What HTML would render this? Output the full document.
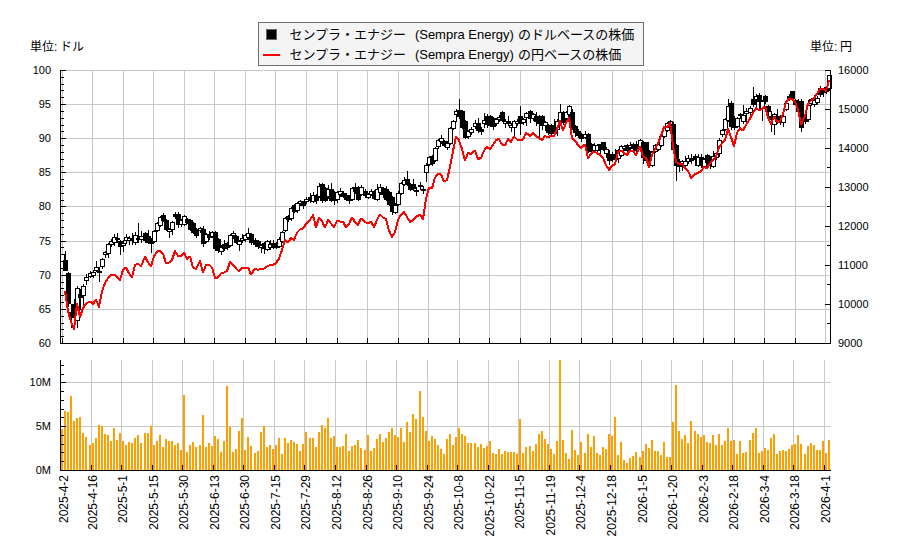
<!DOCTYPE html>
<html lang="ja"><head><meta charset="utf-8"><title>chart</title><style>html,body{margin:0;padding:0;background:#fff;font-family:"Liberation Sans",sans-serif}svg{display:block}</style></head><body><svg width="900" height="550" viewBox="0 0 900 550" role="img">
<title>センプラ・エナジー (Sempra Energy) 株価チャート</title>
<desc>単位:ドル / 単位:円。センプラ・エナジー (Sempra Energy)のドルベースの株価（ローソク足）、センプラ・エナジー (Sempra Energy)の円ベースの株価（赤線）、出来高（0M, 5M, 10M）。期間 2025-4-2 〜 2026-4-1。左軸 60〜100、右軸 9000〜16000。</desc>
<rect width="900" height="550" fill="#fff"/>
<g shape-rendering="crispEdges">
<rect x="61" y="70" width="769" height="1" fill="#c8c8c8"/>
<rect x="61" y="104" width="769" height="1" fill="#c8c8c8"/>
<rect x="61" y="138" width="769" height="1" fill="#c8c8c8"/>
<rect x="61" y="172" width="769" height="1" fill="#c8c8c8"/>
<rect x="61" y="206" width="769" height="1" fill="#c8c8c8"/>
<rect x="61" y="241" width="769" height="1" fill="#c8c8c8"/>
<rect x="61" y="275" width="769" height="1" fill="#c8c8c8"/>
<rect x="61" y="309" width="769" height="1" fill="#c8c8c8"/>
<rect x="61" y="343" width="769" height="1" fill="#c8c8c8"/>
<rect x="62" y="70" width="1" height="273" fill="#c8c8c8"/>
<rect x="92" y="70" width="1" height="273" fill="#c8c8c8"/>
<rect x="123" y="70" width="1" height="273" fill="#c8c8c8"/>
<rect x="153" y="70" width="1" height="273" fill="#c8c8c8"/>
<rect x="184" y="70" width="1" height="273" fill="#c8c8c8"/>
<rect x="214" y="70" width="1" height="273" fill="#c8c8c8"/>
<rect x="245" y="70" width="1" height="273" fill="#c8c8c8"/>
<rect x="275" y="70" width="1" height="273" fill="#c8c8c8"/>
<rect x="306" y="70" width="1" height="273" fill="#c8c8c8"/>
<rect x="337" y="70" width="1" height="273" fill="#c8c8c8"/>
<rect x="367" y="70" width="1" height="273" fill="#c8c8c8"/>
<rect x="398" y="70" width="1" height="273" fill="#c8c8c8"/>
<rect x="428" y="70" width="1" height="273" fill="#c8c8c8"/>
<rect x="459" y="70" width="1" height="273" fill="#c8c8c8"/>
<rect x="489" y="70" width="1" height="273" fill="#c8c8c8"/>
<rect x="520" y="70" width="1" height="273" fill="#c8c8c8"/>
<rect x="550" y="70" width="1" height="273" fill="#c8c8c8"/>
<rect x="581" y="70" width="1" height="273" fill="#c8c8c8"/>
<rect x="612" y="70" width="1" height="273" fill="#c8c8c8"/>
<rect x="642" y="70" width="1" height="273" fill="#c8c8c8"/>
<rect x="673" y="70" width="1" height="273" fill="#c8c8c8"/>
<rect x="703" y="70" width="1" height="273" fill="#c8c8c8"/>
<rect x="734" y="70" width="1" height="273" fill="#c8c8c8"/>
<rect x="764" y="70" width="1" height="273" fill="#c8c8c8"/>
<rect x="795" y="70" width="1" height="273" fill="#c8c8c8"/>
<rect x="825" y="70" width="1" height="273" fill="#c8c8c8"/>
</g>
<g shape-rendering="crispEdges">
<rect x="62" y="254" width="1" height="15" fill="#000"/>
<rect x="60" y="254" width="5" height="15" fill="#000"/>
<rect x="61" y="255" width="3" height="13" fill="#fff"/>
<rect x="65" y="251" width="1" height="20" fill="#000"/>
<rect x="63" y="260" width="5" height="11" fill="#000"/>
<rect x="68" y="272" width="1" height="35" fill="#000"/>
<rect x="66" y="273" width="5" height="31" fill="#000"/>
<rect x="71" y="304" width="1" height="24" fill="#000"/>
<rect x="69" y="312" width="5" height="6" fill="#000"/>
<rect x="74" y="299" width="1" height="22" fill="#000"/>
<rect x="72" y="304" width="5" height="13" fill="#000"/>
<rect x="77" y="286" width="1" height="42" fill="#000"/>
<rect x="75" y="288" width="5" height="33" fill="#000"/>
<rect x="76" y="289" width="3" height="31" fill="#fff"/>
<rect x="80" y="289" width="1" height="21" fill="#000"/>
<rect x="78" y="294" width="5" height="4" fill="#000"/>
<rect x="83" y="284" width="1" height="22" fill="#000"/>
<rect x="81" y="286" width="5" height="10" fill="#000"/>
<rect x="82" y="287" width="3" height="8" fill="#fff"/>
<rect x="86" y="274" width="1" height="11" fill="#000"/>
<rect x="84" y="277" width="5" height="4" fill="#000"/>
<rect x="85" y="278" width="3" height="2" fill="#fff"/>
<rect x="90" y="271" width="1" height="7" fill="#000"/>
<rect x="88" y="273" width="5" height="4" fill="#000"/>
<rect x="89" y="274" width="3" height="2" fill="#fff"/>
<rect x="93" y="270" width="1" height="8" fill="#000"/>
<rect x="91" y="272" width="5" height="4" fill="#000"/>
<rect x="92" y="273" width="3" height="2" fill="#fff"/>
<rect x="96" y="261" width="1" height="11" fill="#000"/>
<rect x="94" y="267" width="5" height="4" fill="#000"/>
<rect x="95" y="268" width="3" height="2" fill="#fff"/>
<rect x="99" y="267" width="1" height="15" fill="#000"/>
<rect x="97" y="271" width="5" height="2" fill="#000"/>
<rect x="102" y="258" width="1" height="11" fill="#000"/>
<rect x="100" y="259" width="5" height="8" fill="#000"/>
<rect x="101" y="260" width="3" height="6" fill="#fff"/>
<rect x="105" y="251" width="1" height="7" fill="#000"/>
<rect x="103" y="252" width="5" height="3" fill="#000"/>
<rect x="104" y="253" width="3" height="1" fill="#fff"/>
<rect x="108" y="243" width="1" height="15" fill="#000"/>
<rect x="106" y="244" width="5" height="10" fill="#000"/>
<rect x="107" y="245" width="3" height="8" fill="#fff"/>
<rect x="111" y="239" width="1" height="8" fill="#000"/>
<rect x="109" y="241" width="5" height="4" fill="#000"/>
<rect x="110" y="242" width="3" height="2" fill="#fff"/>
<rect x="114" y="234" width="1" height="12" fill="#000"/>
<rect x="112" y="237" width="5" height="6" fill="#000"/>
<rect x="113" y="238" width="3" height="4" fill="#fff"/>
<rect x="117" y="233" width="1" height="10" fill="#000"/>
<rect x="115" y="238" width="5" height="2" fill="#000"/>
<rect x="120" y="240" width="1" height="15" fill="#000"/>
<rect x="118" y="241" width="5" height="6" fill="#000"/>
<rect x="123" y="240" width="1" height="12" fill="#000"/>
<rect x="121" y="243" width="5" height="3" fill="#000"/>
<rect x="122" y="244" width="3" height="1" fill="#fff"/>
<rect x="126" y="234" width="1" height="10" fill="#000"/>
<rect x="124" y="237" width="5" height="4" fill="#000"/>
<rect x="125" y="238" width="3" height="2" fill="#fff"/>
<rect x="129" y="236" width="1" height="9" fill="#000"/>
<rect x="127" y="238" width="5" height="3" fill="#000"/>
<rect x="128" y="239" width="3" height="1" fill="#fff"/>
<rect x="132" y="233" width="1" height="12" fill="#000"/>
<rect x="130" y="239" width="5" height="2" fill="#000"/>
<rect x="135" y="232" width="1" height="13" fill="#000"/>
<rect x="133" y="235" width="5" height="8" fill="#000"/>
<rect x="134" y="236" width="3" height="6" fill="#fff"/>
<rect x="138" y="223" width="1" height="20" fill="#000"/>
<rect x="136" y="238" width="5" height="2" fill="#000"/>
<rect x="141" y="231" width="1" height="12" fill="#000"/>
<rect x="139" y="236" width="5" height="4" fill="#000"/>
<rect x="140" y="237" width="3" height="2" fill="#fff"/>
<rect x="145" y="232" width="1" height="11" fill="#000"/>
<rect x="143" y="233" width="5" height="8" fill="#000"/>
<rect x="148" y="230" width="1" height="14" fill="#000"/>
<rect x="146" y="236" width="5" height="7" fill="#000"/>
<rect x="151" y="238" width="1" height="15" fill="#000"/>
<rect x="149" y="240" width="5" height="4" fill="#000"/>
<rect x="154" y="230" width="1" height="13" fill="#000"/>
<rect x="152" y="231" width="5" height="11" fill="#000"/>
<rect x="153" y="232" width="3" height="9" fill="#fff"/>
<rect x="157" y="222" width="1" height="10" fill="#000"/>
<rect x="155" y="223" width="5" height="8" fill="#000"/>
<rect x="156" y="224" width="3" height="6" fill="#fff"/>
<rect x="160" y="216" width="1" height="11" fill="#000"/>
<rect x="158" y="217" width="5" height="9" fill="#000"/>
<rect x="159" y="218" width="3" height="7" fill="#fff"/>
<rect x="163" y="213" width="1" height="9" fill="#000"/>
<rect x="161" y="215" width="5" height="6" fill="#000"/>
<rect x="166" y="219" width="1" height="12" fill="#000"/>
<rect x="164" y="220" width="5" height="10" fill="#000"/>
<rect x="169" y="228" width="1" height="10" fill="#000"/>
<rect x="167" y="229" width="5" height="3" fill="#000"/>
<rect x="168" y="230" width="3" height="1" fill="#fff"/>
<rect x="172" y="221" width="1" height="14" fill="#000"/>
<rect x="170" y="222" width="5" height="8" fill="#000"/>
<rect x="171" y="223" width="3" height="6" fill="#fff"/>
<rect x="175" y="212" width="1" height="7" fill="#000"/>
<rect x="173" y="214" width="5" height="3" fill="#000"/>
<rect x="178" y="212" width="1" height="16" fill="#000"/>
<rect x="176" y="214" width="5" height="11" fill="#000"/>
<rect x="181" y="219" width="1" height="8" fill="#000"/>
<rect x="179" y="220" width="5" height="5" fill="#000"/>
<rect x="180" y="221" width="3" height="3" fill="#fff"/>
<rect x="184" y="215" width="1" height="11" fill="#000"/>
<rect x="182" y="216" width="5" height="9" fill="#000"/>
<rect x="183" y="217" width="3" height="7" fill="#fff"/>
<rect x="187" y="218" width="1" height="6" fill="#000"/>
<rect x="185" y="219" width="5" height="4" fill="#000"/>
<rect x="190" y="219" width="1" height="12" fill="#000"/>
<rect x="188" y="220" width="5" height="10" fill="#000"/>
<rect x="193" y="222" width="1" height="12" fill="#000"/>
<rect x="191" y="223" width="5" height="10" fill="#000"/>
<rect x="196" y="228" width="1" height="10" fill="#000"/>
<rect x="194" y="229" width="5" height="7" fill="#000"/>
<rect x="200" y="227" width="1" height="6" fill="#000"/>
<rect x="198" y="228" width="5" height="3" fill="#000"/>
<rect x="199" y="229" width="3" height="1" fill="#fff"/>
<rect x="203" y="226" width="1" height="21" fill="#000"/>
<rect x="201" y="229" width="5" height="15" fill="#000"/>
<rect x="206" y="233" width="1" height="10" fill="#000"/>
<rect x="204" y="234" width="5" height="8" fill="#000"/>
<rect x="205" y="235" width="3" height="6" fill="#fff"/>
<rect x="209" y="231" width="1" height="9" fill="#000"/>
<rect x="207" y="234" width="5" height="4" fill="#000"/>
<rect x="212" y="231" width="1" height="7" fill="#000"/>
<rect x="210" y="232" width="5" height="5" fill="#000"/>
<rect x="211" y="233" width="3" height="3" fill="#fff"/>
<rect x="215" y="231" width="1" height="20" fill="#000"/>
<rect x="213" y="232" width="5" height="17" fill="#000"/>
<rect x="218" y="238" width="1" height="15" fill="#000"/>
<rect x="216" y="239" width="5" height="12" fill="#000"/>
<rect x="221" y="245" width="1" height="10" fill="#000"/>
<rect x="219" y="247" width="5" height="5" fill="#000"/>
<rect x="220" y="248" width="3" height="3" fill="#fff"/>
<rect x="224" y="240" width="1" height="11" fill="#000"/>
<rect x="222" y="244" width="5" height="5" fill="#000"/>
<rect x="227" y="242" width="1" height="8" fill="#000"/>
<rect x="225" y="243" width="5" height="5" fill="#000"/>
<rect x="230" y="234" width="1" height="13" fill="#000"/>
<rect x="228" y="235" width="5" height="11" fill="#000"/>
<rect x="229" y="236" width="3" height="9" fill="#fff"/>
<rect x="233" y="231" width="1" height="8" fill="#000"/>
<rect x="231" y="233" width="5" height="3" fill="#000"/>
<rect x="232" y="234" width="3" height="1" fill="#fff"/>
<rect x="236" y="235" width="1" height="9" fill="#000"/>
<rect x="234" y="236" width="5" height="7" fill="#000"/>
<rect x="239" y="240" width="1" height="11" fill="#000"/>
<rect x="237" y="241" width="5" height="4" fill="#000"/>
<rect x="238" y="242" width="3" height="2" fill="#fff"/>
<rect x="242" y="234" width="1" height="9" fill="#000"/>
<rect x="240" y="238" width="5" height="3" fill="#000"/>
<rect x="241" y="239" width="3" height="1" fill="#fff"/>
<rect x="245" y="234" width="1" height="8" fill="#000"/>
<rect x="243" y="235" width="5" height="5" fill="#000"/>
<rect x="244" y="236" width="3" height="3" fill="#fff"/>
<rect x="248" y="228" width="1" height="12" fill="#000"/>
<rect x="246" y="233" width="5" height="5" fill="#000"/>
<rect x="247" y="234" width="3" height="3" fill="#fff"/>
<rect x="251" y="233" width="1" height="12" fill="#000"/>
<rect x="249" y="234" width="5" height="9" fill="#000"/>
<rect x="255" y="238" width="1" height="9" fill="#000"/>
<rect x="253" y="240" width="5" height="5" fill="#000"/>
<rect x="258" y="240" width="1" height="9" fill="#000"/>
<rect x="256" y="241" width="5" height="6" fill="#000"/>
<rect x="261" y="244" width="1" height="9" fill="#000"/>
<rect x="259" y="245" width="5" height="3" fill="#000"/>
<rect x="260" y="246" width="3" height="1" fill="#fff"/>
<rect x="264" y="242" width="1" height="12" fill="#000"/>
<rect x="262" y="243" width="5" height="6" fill="#000"/>
<rect x="267" y="240" width="1" height="11" fill="#000"/>
<rect x="265" y="241" width="5" height="9" fill="#000"/>
<rect x="266" y="242" width="3" height="7" fill="#fff"/>
<rect x="270" y="240" width="1" height="10" fill="#000"/>
<rect x="268" y="244" width="5" height="4" fill="#000"/>
<rect x="269" y="245" width="3" height="2" fill="#fff"/>
<rect x="273" y="240" width="1" height="9" fill="#000"/>
<rect x="271" y="243" width="5" height="5" fill="#000"/>
<rect x="276" y="242" width="1" height="7" fill="#000"/>
<rect x="274" y="243" width="5" height="5" fill="#000"/>
<rect x="279" y="237" width="1" height="11" fill="#000"/>
<rect x="277" y="239" width="5" height="8" fill="#000"/>
<rect x="278" y="240" width="3" height="6" fill="#fff"/>
<rect x="282" y="231" width="1" height="12" fill="#000"/>
<rect x="280" y="232" width="5" height="10" fill="#000"/>
<rect x="281" y="233" width="3" height="8" fill="#fff"/>
<rect x="285" y="217" width="1" height="15" fill="#000"/>
<rect x="283" y="218" width="5" height="13" fill="#000"/>
<rect x="284" y="219" width="3" height="11" fill="#fff"/>
<rect x="288" y="215" width="1" height="7" fill="#000"/>
<rect x="286" y="216" width="5" height="4" fill="#000"/>
<rect x="291" y="207" width="1" height="14" fill="#000"/>
<rect x="289" y="208" width="5" height="11" fill="#000"/>
<rect x="290" y="209" width="3" height="9" fill="#fff"/>
<rect x="294" y="204" width="1" height="9" fill="#000"/>
<rect x="292" y="205" width="5" height="7" fill="#000"/>
<rect x="297" y="202" width="1" height="11" fill="#000"/>
<rect x="295" y="203" width="5" height="8" fill="#000"/>
<rect x="296" y="204" width="3" height="6" fill="#fff"/>
<rect x="300" y="200" width="1" height="6" fill="#000"/>
<rect x="298" y="201" width="5" height="3" fill="#000"/>
<rect x="299" y="202" width="3" height="1" fill="#fff"/>
<rect x="303" y="201" width="1" height="8" fill="#000"/>
<rect x="301" y="202" width="5" height="4" fill="#000"/>
<rect x="306" y="197" width="1" height="7" fill="#000"/>
<rect x="304" y="199" width="5" height="3" fill="#000"/>
<rect x="305" y="200" width="3" height="1" fill="#fff"/>
<rect x="310" y="193" width="1" height="10" fill="#000"/>
<rect x="308" y="197" width="5" height="4" fill="#000"/>
<rect x="313" y="192" width="1" height="11" fill="#000"/>
<rect x="311" y="195" width="5" height="7" fill="#000"/>
<rect x="312" y="196" width="3" height="5" fill="#fff"/>
<rect x="316" y="194" width="1" height="10" fill="#000"/>
<rect x="314" y="195" width="5" height="6" fill="#000"/>
<rect x="319" y="183" width="1" height="15" fill="#000"/>
<rect x="317" y="186" width="5" height="11" fill="#000"/>
<rect x="318" y="187" width="3" height="9" fill="#fff"/>
<rect x="322" y="183" width="1" height="20" fill="#000"/>
<rect x="320" y="184" width="5" height="17" fill="#000"/>
<rect x="325" y="187" width="1" height="15" fill="#000"/>
<rect x="323" y="188" width="5" height="13" fill="#000"/>
<rect x="328" y="185" width="1" height="14" fill="#000"/>
<rect x="326" y="189" width="5" height="8" fill="#000"/>
<rect x="327" y="190" width="3" height="6" fill="#fff"/>
<rect x="331" y="183" width="1" height="19" fill="#000"/>
<rect x="329" y="189" width="5" height="12" fill="#000"/>
<rect x="334" y="191" width="1" height="14" fill="#000"/>
<rect x="332" y="192" width="5" height="9" fill="#000"/>
<rect x="337" y="191" width="1" height="12" fill="#000"/>
<rect x="335" y="192" width="5" height="8" fill="#000"/>
<rect x="336" y="193" width="3" height="6" fill="#fff"/>
<rect x="340" y="188" width="1" height="9" fill="#000"/>
<rect x="338" y="191" width="5" height="4" fill="#000"/>
<rect x="339" y="192" width="3" height="2" fill="#fff"/>
<rect x="343" y="191" width="1" height="7" fill="#000"/>
<rect x="341" y="193" width="5" height="4" fill="#000"/>
<rect x="346" y="193" width="1" height="8" fill="#000"/>
<rect x="344" y="195" width="5" height="5" fill="#000"/>
<rect x="349" y="195" width="1" height="9" fill="#000"/>
<rect x="347" y="196" width="5" height="5" fill="#000"/>
<rect x="352" y="187" width="1" height="14" fill="#000"/>
<rect x="350" y="188" width="5" height="12" fill="#000"/>
<rect x="351" y="189" width="3" height="10" fill="#fff"/>
<rect x="355" y="183" width="1" height="11" fill="#000"/>
<rect x="353" y="187" width="5" height="5" fill="#000"/>
<rect x="358" y="186" width="1" height="15" fill="#000"/>
<rect x="356" y="187" width="5" height="13" fill="#000"/>
<rect x="361" y="185" width="1" height="11" fill="#000"/>
<rect x="359" y="187" width="5" height="8" fill="#000"/>
<rect x="360" y="188" width="3" height="6" fill="#fff"/>
<rect x="365" y="189" width="1" height="9" fill="#000"/>
<rect x="363" y="191" width="5" height="5" fill="#000"/>
<rect x="368" y="193" width="1" height="6" fill="#000"/>
<rect x="366" y="194" width="5" height="4" fill="#000"/>
<rect x="367" y="195" width="3" height="2" fill="#fff"/>
<rect x="371" y="189" width="1" height="7" fill="#000"/>
<rect x="369" y="191" width="5" height="4" fill="#000"/>
<rect x="370" y="192" width="3" height="2" fill="#fff"/>
<rect x="374" y="190" width="1" height="10" fill="#000"/>
<rect x="372" y="191" width="5" height="8" fill="#000"/>
<rect x="377" y="184" width="1" height="17" fill="#000"/>
<rect x="375" y="189" width="5" height="11" fill="#000"/>
<rect x="376" y="190" width="3" height="9" fill="#fff"/>
<rect x="380" y="184" width="1" height="11" fill="#000"/>
<rect x="378" y="187" width="5" height="6" fill="#000"/>
<rect x="379" y="188" width="3" height="4" fill="#fff"/>
<rect x="383" y="187" width="1" height="11" fill="#000"/>
<rect x="381" y="188" width="5" height="7" fill="#000"/>
<rect x="386" y="186" width="1" height="15" fill="#000"/>
<rect x="384" y="189" width="5" height="11" fill="#000"/>
<rect x="389" y="191" width="1" height="15" fill="#000"/>
<rect x="387" y="192" width="5" height="13" fill="#000"/>
<rect x="392" y="196" width="1" height="19" fill="#000"/>
<rect x="390" y="197" width="5" height="15" fill="#000"/>
<rect x="395" y="203" width="1" height="11" fill="#000"/>
<rect x="393" y="205" width="5" height="8" fill="#000"/>
<rect x="394" y="206" width="3" height="6" fill="#fff"/>
<rect x="398" y="191" width="1" height="15" fill="#000"/>
<rect x="396" y="193" width="5" height="12" fill="#000"/>
<rect x="397" y="194" width="3" height="10" fill="#fff"/>
<rect x="401" y="182" width="1" height="13" fill="#000"/>
<rect x="399" y="183" width="5" height="11" fill="#000"/>
<rect x="400" y="184" width="3" height="9" fill="#fff"/>
<rect x="404" y="177" width="1" height="9" fill="#000"/>
<rect x="402" y="180" width="5" height="5" fill="#000"/>
<rect x="403" y="181" width="3" height="3" fill="#fff"/>
<rect x="407" y="171" width="1" height="15" fill="#000"/>
<rect x="405" y="179" width="5" height="6" fill="#000"/>
<rect x="410" y="183" width="1" height="8" fill="#000"/>
<rect x="408" y="184" width="5" height="6" fill="#000"/>
<rect x="413" y="179" width="1" height="12" fill="#000"/>
<rect x="411" y="184" width="5" height="5" fill="#000"/>
<rect x="416" y="187" width="1" height="9" fill="#000"/>
<rect x="414" y="190" width="5" height="2" fill="#000"/>
<rect x="420" y="182" width="1" height="8" fill="#000"/>
<rect x="418" y="185" width="5" height="2" fill="#000"/>
<rect x="423" y="186" width="1" height="8" fill="#000"/>
<rect x="421" y="189" width="5" height="2" fill="#000"/>
<rect x="426" y="163" width="1" height="19" fill="#000"/>
<rect x="424" y="165" width="5" height="8" fill="#000"/>
<rect x="425" y="166" width="3" height="6" fill="#fff"/>
<rect x="429" y="156" width="1" height="10" fill="#000"/>
<rect x="427" y="157" width="5" height="8" fill="#000"/>
<rect x="428" y="158" width="3" height="6" fill="#fff"/>
<rect x="432" y="155" width="1" height="11" fill="#000"/>
<rect x="430" y="156" width="5" height="8" fill="#000"/>
<rect x="435" y="147" width="1" height="15" fill="#000"/>
<rect x="433" y="148" width="5" height="13" fill="#000"/>
<rect x="434" y="149" width="3" height="11" fill="#fff"/>
<rect x="438" y="139" width="1" height="10" fill="#000"/>
<rect x="436" y="140" width="5" height="7" fill="#000"/>
<rect x="437" y="141" width="3" height="5" fill="#fff"/>
<rect x="441" y="135" width="1" height="9" fill="#000"/>
<rect x="439" y="138" width="5" height="4" fill="#000"/>
<rect x="440" y="139" width="3" height="2" fill="#fff"/>
<rect x="444" y="140" width="1" height="7" fill="#000"/>
<rect x="442" y="141" width="5" height="5" fill="#000"/>
<rect x="447" y="141" width="1" height="9" fill="#000"/>
<rect x="445" y="143" width="5" height="5" fill="#000"/>
<rect x="446" y="144" width="3" height="3" fill="#fff"/>
<rect x="450" y="127" width="1" height="18" fill="#000"/>
<rect x="448" y="128" width="5" height="16" fill="#000"/>
<rect x="449" y="129" width="3" height="14" fill="#fff"/>
<rect x="453" y="120" width="1" height="10" fill="#000"/>
<rect x="451" y="121" width="5" height="8" fill="#000"/>
<rect x="452" y="122" width="3" height="6" fill="#fff"/>
<rect x="456" y="109" width="1" height="13" fill="#000"/>
<rect x="454" y="111" width="5" height="4" fill="#000"/>
<rect x="455" y="112" width="3" height="2" fill="#fff"/>
<rect x="459" y="99" width="1" height="20" fill="#000"/>
<rect x="457" y="110" width="5" height="7" fill="#000"/>
<rect x="462" y="110" width="1" height="19" fill="#000"/>
<rect x="460" y="111" width="5" height="17" fill="#000"/>
<rect x="465" y="120" width="1" height="19" fill="#000"/>
<rect x="463" y="121" width="5" height="17" fill="#000"/>
<rect x="468" y="130" width="1" height="9" fill="#000"/>
<rect x="466" y="131" width="5" height="6" fill="#000"/>
<rect x="467" y="132" width="3" height="4" fill="#fff"/>
<rect x="471" y="127" width="1" height="8" fill="#000"/>
<rect x="469" y="129" width="5" height="4" fill="#000"/>
<rect x="470" y="130" width="3" height="2" fill="#fff"/>
<rect x="475" y="120" width="1" height="9" fill="#000"/>
<rect x="473" y="123" width="5" height="4" fill="#000"/>
<rect x="474" y="124" width="3" height="2" fill="#fff"/>
<rect x="478" y="118" width="1" height="15" fill="#000"/>
<rect x="476" y="123" width="5" height="8" fill="#000"/>
<rect x="481" y="127" width="1" height="8" fill="#000"/>
<rect x="479" y="129" width="5" height="3" fill="#000"/>
<rect x="484" y="113" width="1" height="15" fill="#000"/>
<rect x="482" y="120" width="5" height="4" fill="#000"/>
<rect x="483" y="121" width="3" height="2" fill="#fff"/>
<rect x="487" y="114" width="1" height="14" fill="#000"/>
<rect x="485" y="116" width="5" height="9" fill="#000"/>
<rect x="490" y="115" width="1" height="12" fill="#000"/>
<rect x="488" y="116" width="5" height="10" fill="#000"/>
<rect x="493" y="117" width="1" height="13" fill="#000"/>
<rect x="491" y="118" width="5" height="9" fill="#000"/>
<rect x="496" y="118" width="1" height="8" fill="#000"/>
<rect x="494" y="119" width="5" height="5" fill="#000"/>
<rect x="495" y="120" width="3" height="3" fill="#fff"/>
<rect x="499" y="115" width="1" height="7" fill="#000"/>
<rect x="497" y="117" width="5" height="3" fill="#000"/>
<rect x="498" y="118" width="3" height="1" fill="#fff"/>
<rect x="502" y="111" width="1" height="11" fill="#000"/>
<rect x="500" y="112" width="5" height="9" fill="#000"/>
<rect x="505" y="119" width="1" height="9" fill="#000"/>
<rect x="503" y="121" width="5" height="3" fill="#000"/>
<rect x="504" y="122" width="3" height="1" fill="#fff"/>
<rect x="508" y="116" width="1" height="10" fill="#000"/>
<rect x="506" y="121" width="5" height="3" fill="#000"/>
<rect x="511" y="123" width="1" height="9" fill="#000"/>
<rect x="509" y="125" width="5" height="3" fill="#000"/>
<rect x="510" y="126" width="3" height="1" fill="#fff"/>
<rect x="514" y="120" width="1" height="18" fill="#000"/>
<rect x="512" y="121" width="5" height="7" fill="#000"/>
<rect x="513" y="122" width="3" height="5" fill="#fff"/>
<rect x="517" y="119" width="1" height="7" fill="#000"/>
<rect x="515" y="121" width="5" height="3" fill="#000"/>
<rect x="516" y="122" width="3" height="1" fill="#fff"/>
<rect x="520" y="106" width="1" height="29" fill="#000"/>
<rect x="518" y="116" width="5" height="8" fill="#000"/>
<rect x="523" y="118" width="1" height="7" fill="#000"/>
<rect x="521" y="119" width="5" height="4" fill="#000"/>
<rect x="522" y="120" width="3" height="2" fill="#fff"/>
<rect x="526" y="112" width="1" height="14" fill="#000"/>
<rect x="524" y="113" width="5" height="5" fill="#000"/>
<rect x="525" y="114" width="3" height="3" fill="#fff"/>
<rect x="530" y="110" width="1" height="13" fill="#000"/>
<rect x="528" y="111" width="5" height="8" fill="#000"/>
<rect x="533" y="113" width="1" height="8" fill="#000"/>
<rect x="531" y="114" width="5" height="5" fill="#000"/>
<rect x="532" y="115" width="3" height="3" fill="#fff"/>
<rect x="536" y="112" width="1" height="14" fill="#000"/>
<rect x="534" y="116" width="5" height="6" fill="#000"/>
<rect x="539" y="115" width="1" height="22" fill="#000"/>
<rect x="537" y="116" width="5" height="8" fill="#000"/>
<rect x="542" y="115" width="1" height="15" fill="#000"/>
<rect x="540" y="116" width="5" height="10" fill="#000"/>
<rect x="545" y="121" width="1" height="10" fill="#000"/>
<rect x="543" y="122" width="5" height="4" fill="#000"/>
<rect x="544" y="123" width="3" height="2" fill="#fff"/>
<rect x="548" y="124" width="1" height="11" fill="#000"/>
<rect x="546" y="125" width="5" height="8" fill="#000"/>
<rect x="551" y="124" width="1" height="11" fill="#000"/>
<rect x="549" y="125" width="5" height="9" fill="#000"/>
<rect x="554" y="119" width="1" height="17" fill="#000"/>
<rect x="552" y="125" width="5" height="9" fill="#000"/>
<rect x="557" y="119" width="1" height="17" fill="#000"/>
<rect x="555" y="121" width="5" height="9" fill="#000"/>
<rect x="556" y="122" width="3" height="7" fill="#fff"/>
<rect x="560" y="104" width="1" height="21" fill="#000"/>
<rect x="558" y="112" width="5" height="11" fill="#000"/>
<rect x="559" y="113" width="3" height="9" fill="#fff"/>
<rect x="563" y="111" width="1" height="14" fill="#000"/>
<rect x="561" y="112" width="5" height="11" fill="#000"/>
<rect x="566" y="111" width="1" height="10" fill="#000"/>
<rect x="564" y="112" width="5" height="7" fill="#000"/>
<rect x="565" y="113" width="3" height="5" fill="#fff"/>
<rect x="569" y="105" width="1" height="12" fill="#000"/>
<rect x="567" y="106" width="5" height="9" fill="#000"/>
<rect x="568" y="107" width="3" height="7" fill="#fff"/>
<rect x="572" y="109" width="1" height="21" fill="#000"/>
<rect x="570" y="112" width="5" height="17" fill="#000"/>
<rect x="575" y="125" width="1" height="12" fill="#000"/>
<rect x="573" y="126" width="5" height="7" fill="#000"/>
<rect x="578" y="129" width="1" height="9" fill="#000"/>
<rect x="576" y="131" width="5" height="5" fill="#000"/>
<rect x="581" y="133" width="1" height="9" fill="#000"/>
<rect x="579" y="134" width="5" height="5" fill="#000"/>
<rect x="585" y="131" width="1" height="8" fill="#000"/>
<rect x="583" y="134" width="5" height="4" fill="#000"/>
<rect x="584" y="135" width="3" height="2" fill="#fff"/>
<rect x="588" y="133" width="1" height="20" fill="#000"/>
<rect x="586" y="134" width="5" height="18" fill="#000"/>
<rect x="591" y="143" width="1" height="10" fill="#000"/>
<rect x="589" y="144" width="5" height="8" fill="#000"/>
<rect x="594" y="143" width="1" height="9" fill="#000"/>
<rect x="592" y="145" width="5" height="6" fill="#000"/>
<rect x="593" y="146" width="3" height="4" fill="#fff"/>
<rect x="597" y="144" width="1" height="9" fill="#000"/>
<rect x="595" y="145" width="5" height="6" fill="#000"/>
<rect x="596" y="146" width="3" height="4" fill="#fff"/>
<rect x="600" y="144" width="1" height="10" fill="#000"/>
<rect x="598" y="144" width="5" height="6" fill="#000"/>
<rect x="603" y="142" width="1" height="9" fill="#000"/>
<rect x="601" y="142" width="5" height="8" fill="#000"/>
<rect x="606" y="147" width="1" height="11" fill="#000"/>
<rect x="604" y="149" width="5" height="5" fill="#000"/>
<rect x="605" y="150" width="3" height="3" fill="#fff"/>
<rect x="609" y="150" width="1" height="15" fill="#000"/>
<rect x="607" y="154" width="5" height="7" fill="#000"/>
<rect x="612" y="152" width="1" height="10" fill="#000"/>
<rect x="610" y="154" width="5" height="6" fill="#000"/>
<rect x="615" y="149" width="1" height="12" fill="#000"/>
<rect x="613" y="154" width="5" height="6" fill="#000"/>
<rect x="618" y="149" width="1" height="14" fill="#000"/>
<rect x="616" y="150" width="5" height="9" fill="#000"/>
<rect x="617" y="151" width="3" height="7" fill="#fff"/>
<rect x="621" y="145" width="1" height="12" fill="#000"/>
<rect x="619" y="146" width="5" height="10" fill="#000"/>
<rect x="620" y="147" width="3" height="8" fill="#fff"/>
<rect x="624" y="145" width="1" height="6" fill="#000"/>
<rect x="622" y="146" width="5" height="3" fill="#000"/>
<rect x="623" y="147" width="3" height="1" fill="#fff"/>
<rect x="627" y="144" width="1" height="8" fill="#000"/>
<rect x="625" y="145" width="5" height="6" fill="#000"/>
<rect x="630" y="142" width="1" height="8" fill="#000"/>
<rect x="628" y="145" width="5" height="3" fill="#000"/>
<rect x="629" y="146" width="3" height="1" fill="#fff"/>
<rect x="633" y="143" width="1" height="8" fill="#000"/>
<rect x="631" y="144" width="5" height="5" fill="#000"/>
<rect x="636" y="141" width="1" height="11" fill="#000"/>
<rect x="634" y="144" width="5" height="7" fill="#000"/>
<rect x="640" y="139" width="1" height="9" fill="#000"/>
<rect x="638" y="140" width="5" height="7" fill="#000"/>
<rect x="639" y="141" width="3" height="5" fill="#fff"/>
<rect x="643" y="141" width="1" height="23" fill="#000"/>
<rect x="641" y="142" width="5" height="16" fill="#000"/>
<rect x="646" y="142" width="1" height="20" fill="#000"/>
<rect x="644" y="142" width="5" height="19" fill="#000"/>
<rect x="649" y="150" width="1" height="18" fill="#000"/>
<rect x="647" y="151" width="5" height="15" fill="#000"/>
<rect x="652" y="151" width="1" height="16" fill="#000"/>
<rect x="650" y="152" width="5" height="14" fill="#000"/>
<rect x="651" y="153" width="3" height="12" fill="#fff"/>
<rect x="655" y="144" width="1" height="9" fill="#000"/>
<rect x="653" y="145" width="5" height="7" fill="#000"/>
<rect x="654" y="146" width="3" height="5" fill="#fff"/>
<rect x="658" y="143" width="1" height="8" fill="#000"/>
<rect x="656" y="144" width="5" height="6" fill="#000"/>
<rect x="657" y="145" width="3" height="4" fill="#fff"/>
<rect x="661" y="135" width="1" height="12" fill="#000"/>
<rect x="659" y="136" width="5" height="10" fill="#000"/>
<rect x="660" y="137" width="3" height="8" fill="#fff"/>
<rect x="664" y="127" width="1" height="11" fill="#000"/>
<rect x="662" y="128" width="5" height="9" fill="#000"/>
<rect x="663" y="129" width="3" height="7" fill="#fff"/>
<rect x="667" y="122" width="1" height="10" fill="#000"/>
<rect x="665" y="123" width="5" height="8" fill="#000"/>
<rect x="666" y="124" width="3" height="6" fill="#fff"/>
<rect x="670" y="120" width="1" height="9" fill="#000"/>
<rect x="668" y="121" width="5" height="7" fill="#000"/>
<rect x="669" y="122" width="3" height="5" fill="#fff"/>
<rect x="673" y="122" width="1" height="29" fill="#000"/>
<rect x="671" y="124" width="5" height="26" fill="#000"/>
<rect x="676" y="144" width="1" height="37" fill="#000"/>
<rect x="674" y="145" width="5" height="21" fill="#000"/>
<rect x="679" y="159" width="1" height="13" fill="#000"/>
<rect x="677" y="164" width="5" height="3" fill="#000"/>
<rect x="682" y="160" width="1" height="11" fill="#000"/>
<rect x="680" y="161" width="5" height="3" fill="#000"/>
<rect x="681" y="162" width="3" height="1" fill="#fff"/>
<rect x="685" y="156" width="1" height="11" fill="#000"/>
<rect x="683" y="161" width="5" height="5" fill="#000"/>
<rect x="684" y="162" width="3" height="3" fill="#fff"/>
<rect x="688" y="155" width="1" height="9" fill="#000"/>
<rect x="686" y="158" width="5" height="4" fill="#000"/>
<rect x="687" y="159" width="3" height="2" fill="#fff"/>
<rect x="691" y="154" width="1" height="10" fill="#000"/>
<rect x="689" y="158" width="5" height="3" fill="#000"/>
<rect x="695" y="154" width="1" height="12" fill="#000"/>
<rect x="693" y="156" width="5" height="4" fill="#000"/>
<rect x="698" y="154" width="1" height="13" fill="#000"/>
<rect x="696" y="157" width="5" height="9" fill="#000"/>
<rect x="697" y="158" width="3" height="7" fill="#fff"/>
<rect x="701" y="154" width="1" height="14" fill="#000"/>
<rect x="699" y="157" width="5" height="9" fill="#000"/>
<rect x="704" y="158" width="1" height="10" fill="#000"/>
<rect x="702" y="159" width="5" height="8" fill="#000"/>
<rect x="703" y="160" width="3" height="6" fill="#fff"/>
<rect x="707" y="154" width="1" height="13" fill="#000"/>
<rect x="705" y="155" width="5" height="8" fill="#000"/>
<rect x="710" y="156" width="1" height="13" fill="#000"/>
<rect x="708" y="158" width="5" height="7" fill="#000"/>
<rect x="713" y="151" width="1" height="17" fill="#000"/>
<rect x="711" y="156" width="5" height="11" fill="#000"/>
<rect x="712" y="157" width="3" height="9" fill="#fff"/>
<rect x="716" y="152" width="1" height="8" fill="#000"/>
<rect x="714" y="153" width="5" height="5" fill="#000"/>
<rect x="715" y="154" width="3" height="3" fill="#fff"/>
<rect x="719" y="138" width="1" height="19" fill="#000"/>
<rect x="717" y="140" width="5" height="14" fill="#000"/>
<rect x="718" y="141" width="3" height="12" fill="#fff"/>
<rect x="722" y="129" width="1" height="8" fill="#000"/>
<rect x="720" y="130" width="5" height="5" fill="#000"/>
<rect x="721" y="131" width="3" height="3" fill="#fff"/>
<rect x="725" y="118" width="1" height="13" fill="#000"/>
<rect x="723" y="119" width="5" height="11" fill="#000"/>
<rect x="724" y="120" width="3" height="9" fill="#fff"/>
<rect x="728" y="99" width="1" height="23" fill="#000"/>
<rect x="726" y="106" width="5" height="15" fill="#000"/>
<rect x="727" y="107" width="3" height="13" fill="#fff"/>
<rect x="731" y="101" width="1" height="29" fill="#000"/>
<rect x="729" y="103" width="5" height="24" fill="#000"/>
<rect x="734" y="116" width="1" height="14" fill="#000"/>
<rect x="732" y="118" width="5" height="10" fill="#000"/>
<rect x="737" y="117" width="1" height="11" fill="#000"/>
<rect x="735" y="118" width="5" height="9" fill="#000"/>
<rect x="736" y="119" width="3" height="7" fill="#fff"/>
<rect x="740" y="113" width="1" height="6" fill="#000"/>
<rect x="738" y="114" width="5" height="2" fill="#000"/>
<rect x="743" y="105" width="1" height="19" fill="#000"/>
<rect x="741" y="115" width="5" height="7" fill="#000"/>
<rect x="742" y="116" width="3" height="5" fill="#fff"/>
<rect x="746" y="108" width="1" height="17" fill="#000"/>
<rect x="744" y="111" width="5" height="3" fill="#000"/>
<rect x="745" y="112" width="3" height="1" fill="#fff"/>
<rect x="750" y="106" width="1" height="9" fill="#000"/>
<rect x="748" y="108" width="5" height="5" fill="#000"/>
<rect x="749" y="109" width="3" height="3" fill="#fff"/>
<rect x="753" y="87" width="1" height="20" fill="#000"/>
<rect x="751" y="99" width="5" height="6" fill="#000"/>
<rect x="756" y="94" width="1" height="15" fill="#000"/>
<rect x="754" y="96" width="5" height="4" fill="#000"/>
<rect x="755" y="97" width="3" height="2" fill="#fff"/>
<rect x="759" y="93" width="1" height="16" fill="#000"/>
<rect x="757" y="95" width="5" height="7" fill="#000"/>
<rect x="762" y="100" width="1" height="21" fill="#000"/>
<rect x="760" y="101" width="5" height="8" fill="#000"/>
<rect x="761" y="102" width="3" height="6" fill="#fff"/>
<rect x="765" y="95" width="1" height="9" fill="#000"/>
<rect x="763" y="96" width="5" height="6" fill="#000"/>
<rect x="768" y="105" width="1" height="12" fill="#000"/>
<rect x="766" y="106" width="5" height="6" fill="#000"/>
<rect x="771" y="111" width="1" height="21" fill="#000"/>
<rect x="769" y="116" width="5" height="4" fill="#000"/>
<rect x="774" y="113" width="1" height="22" fill="#000"/>
<rect x="772" y="114" width="5" height="11" fill="#000"/>
<rect x="773" y="115" width="3" height="9" fill="#fff"/>
<rect x="777" y="109" width="1" height="15" fill="#000"/>
<rect x="775" y="116" width="5" height="6" fill="#000"/>
<rect x="780" y="115" width="1" height="10" fill="#000"/>
<rect x="778" y="117" width="5" height="6" fill="#000"/>
<rect x="783" y="115" width="1" height="12" fill="#000"/>
<rect x="781" y="116" width="5" height="7" fill="#000"/>
<rect x="782" y="117" width="3" height="5" fill="#fff"/>
<rect x="786" y="102" width="1" height="9" fill="#000"/>
<rect x="784" y="103" width="5" height="7" fill="#000"/>
<rect x="785" y="104" width="3" height="5" fill="#fff"/>
<rect x="789" y="94" width="1" height="7" fill="#000"/>
<rect x="787" y="96" width="5" height="3" fill="#000"/>
<rect x="792" y="91" width="1" height="9" fill="#000"/>
<rect x="790" y="91" width="5" height="8" fill="#000"/>
<rect x="795" y="99" width="1" height="7" fill="#000"/>
<rect x="793" y="100" width="5" height="5" fill="#000"/>
<rect x="798" y="99" width="1" height="14" fill="#000"/>
<rect x="796" y="101" width="5" height="11" fill="#000"/>
<rect x="801" y="99" width="1" height="33" fill="#000"/>
<rect x="799" y="101" width="5" height="27" fill="#000"/>
<rect x="805" y="112" width="1" height="12" fill="#000"/>
<rect x="803" y="114" width="5" height="8" fill="#000"/>
<rect x="808" y="100" width="1" height="22" fill="#000"/>
<rect x="806" y="105" width="5" height="15" fill="#000"/>
<rect x="807" y="106" width="3" height="13" fill="#fff"/>
<rect x="811" y="98" width="1" height="8" fill="#000"/>
<rect x="809" y="99" width="5" height="5" fill="#000"/>
<rect x="810" y="100" width="3" height="3" fill="#fff"/>
<rect x="814" y="95" width="1" height="12" fill="#000"/>
<rect x="812" y="100" width="5" height="5" fill="#000"/>
<rect x="813" y="101" width="3" height="3" fill="#fff"/>
<rect x="817" y="96" width="1" height="9" fill="#000"/>
<rect x="815" y="98" width="5" height="5" fill="#000"/>
<rect x="816" y="99" width="3" height="3" fill="#fff"/>
<rect x="820" y="86" width="1" height="11" fill="#000"/>
<rect x="818" y="88" width="5" height="7" fill="#000"/>
<rect x="823" y="88" width="1" height="9" fill="#000"/>
<rect x="821" y="89" width="5" height="4" fill="#000"/>
<rect x="826" y="86" width="1" height="8" fill="#000"/>
<rect x="824" y="87" width="5" height="5" fill="#000"/>
<rect x="829" y="75" width="1" height="16" fill="#000"/>
<rect x="827" y="75" width="5" height="14" fill="#000"/>
<rect x="828" y="76" width="3" height="12" fill="#fff"/>
</g>
<polyline points="65,291.0 68,311.0 71,322.0 74,329.0 77,304.0 80,317.0 83,308.0 86,303.5 90,301.5 93,304.0 96,299.5 99,307.0 102,291.5 105,283.0 108,278.0 111,275.0 114,274.5 117,277.0 120,280.0 123,270.0 126,267.5 129,273.5 132,277.0 135,265.0 138,263.5 141,266.5 145,256.5 148,262.5 151,266.0 154,256.5 157,251.5 160,251.0 163,253.5 166,263.5 169,262.5 172,260.0 175,251.0 178,256.0 181,256.0 184,252.5 187,259.0 190,256.5 193,267.5 196,269.0 200,261.0 203,272.5 206,265.0 209,264.5 212,267.5 215,278.0 218,277.5 221,273.5 224,272.5 227,271.0 230,262.0 233,264.5 236,268.5 239,271.5 242,268.0 245,267.5 248,267.5 251,274.5 255,268.5 258,270.0 261,268.5 264,268.5 267,266.5 270,265.0 273,265.0 276,263.0 279,258.5 282,250.0 285,240.0 288,242.5 291,238.0 294,240.0 297,232.5 300,229.5 303,228.5 306,224.0 310,220.0 313,215.0 316,227.5 319,217.5 322,221.0 325,227.5 328,220.0 331,223.5 334,227.0 337,221.0 340,221.5 343,221.5 346,227.5 349,224.0 352,217.5 355,222.0 358,225.0 361,218.5 365,222.0 368,223.5 371,221.5 374,227.0 377,220.0 380,214.5 383,217.5 386,219.0 389,230.5 392,237.0 395,232.0 398,220.0 401,214.5 404,212.0 407,217.0 410,222.0 413,220.0 416,217.0 420,214.5 423,219.0 426,198.5 429,187.8 432,188.3 435,177.5 438,174.0 441,174.5 444,181.5 447,180.0 450,167.0 453,151.0 456,136.5 459,140.5 462,149.0 465,160.5 468,153.0 471,154.0 475,150.5 478,159.0 481,158.0 484,150.5 487,147.0 490,149.0 493,145.0 496,140.0 499,139.0 502,144.5 505,145.5 508,139.0 511,142.0 514,136.5 517,139.5 520,139.5 523,139.5 526,133.0 530,135.7 533,132.8 536,136.0 539,138.0 542,140.0 545,136.0 548,137.5 551,135.5 554,136.0 557,129.0 560,121.0 563,130.5 566,123.0 569,118.0 572,138.0 575,140.5 578,145.0 581,148.0 585,144.5 588,158.0 591,154.0 594,151.5 597,153.0 600,155.0 603,158.0 606,165.0 609,170.0 612,165.5 615,164.5 618,152.0 621,150.5 624,153.0 627,155.0 630,150.5 633,151.0 636,155.0 640,146.5 643,156.5 646,158.0 649,167.0 652,155.0 655,149.0 658,143.0 661,136.0 664,127.0 667,127.5 670,122.5 673,146.0 676,162.0 679,163.5 682,163.5 685,168.5 688,170.5 691,178.0 695,174.0 698,173.0 701,171.0 704,167.0 707,168.2 710,163.0 713,160.0 716,156.8 719,147.5 722,143.5 725,140.0 728,129.0 731,137.0 734,146.0 737,133.0 740,128.0 743,130.5 746,125.0 750,118.5 753,113.0 756,108.0 759,110.2 762,109.0 765,106.5 768,117.5 771,124.0 774,116.5 777,121.5 780,121.5 783,114.0 786,102.0 789,99.0 792,98.5 795,102.0 798,109.5 801,124.5 805,116.0 808,103.5 811,100.5 814,98.0 817,94.0 820,89.0 823,88.5 826,91.5 829,80.0" fill="none" stroke="#f00" stroke-width="2" stroke-linejoin="round" shape-rendering="crispEdges"/>
<g shape-rendering="crispEdges">
<rect x="60" y="70" width="1" height="274" fill="#000"/>
<rect x="830" y="70" width="1" height="274" fill="#000"/>
<rect x="60" y="343" width="771" height="1" fill="#000"/>
<rect x="60" y="70" width="6" height="1" fill="#000"/>
<rect x="60" y="77" width="4" height="1" fill="#000"/>
<rect x="60" y="84" width="4" height="1" fill="#000"/>
<rect x="60" y="90" width="4" height="1" fill="#000"/>
<rect x="60" y="97" width="4" height="1" fill="#000"/>
<rect x="60" y="104" width="6" height="1" fill="#000"/>
<rect x="60" y="111" width="4" height="1" fill="#000"/>
<rect x="60" y="118" width="4" height="1" fill="#000"/>
<rect x="60" y="125" width="4" height="1" fill="#000"/>
<rect x="60" y="131" width="4" height="1" fill="#000"/>
<rect x="60" y="138" width="6" height="1" fill="#000"/>
<rect x="60" y="145" width="4" height="1" fill="#000"/>
<rect x="60" y="152" width="4" height="1" fill="#000"/>
<rect x="60" y="159" width="4" height="1" fill="#000"/>
<rect x="60" y="166" width="4" height="1" fill="#000"/>
<rect x="60" y="172" width="6" height="1" fill="#000"/>
<rect x="60" y="179" width="4" height="1" fill="#000"/>
<rect x="60" y="186" width="4" height="1" fill="#000"/>
<rect x="60" y="193" width="4" height="1" fill="#000"/>
<rect x="60" y="200" width="4" height="1" fill="#000"/>
<rect x="60" y="206" width="6" height="1" fill="#000"/>
<rect x="60" y="213" width="4" height="1" fill="#000"/>
<rect x="60" y="220" width="4" height="1" fill="#000"/>
<rect x="60" y="227" width="4" height="1" fill="#000"/>
<rect x="60" y="234" width="4" height="1" fill="#000"/>
<rect x="60" y="241" width="6" height="1" fill="#000"/>
<rect x="60" y="247" width="4" height="1" fill="#000"/>
<rect x="60" y="254" width="4" height="1" fill="#000"/>
<rect x="60" y="261" width="4" height="1" fill="#000"/>
<rect x="60" y="268" width="4" height="1" fill="#000"/>
<rect x="60" y="275" width="6" height="1" fill="#000"/>
<rect x="60" y="282" width="4" height="1" fill="#000"/>
<rect x="60" y="288" width="4" height="1" fill="#000"/>
<rect x="60" y="295" width="4" height="1" fill="#000"/>
<rect x="60" y="302" width="4" height="1" fill="#000"/>
<rect x="60" y="309" width="6" height="1" fill="#000"/>
<rect x="60" y="316" width="4" height="1" fill="#000"/>
<rect x="60" y="323" width="4" height="1" fill="#000"/>
<rect x="60" y="329" width="4" height="1" fill="#000"/>
<rect x="60" y="336" width="4" height="1" fill="#000"/>
<rect x="60" y="343" width="6" height="1" fill="#000"/>
<rect x="825" y="70" width="6" height="1" fill="#000"/>
<rect x="827" y="89" width="4" height="1" fill="#000"/>
<rect x="825" y="109" width="6" height="1" fill="#000"/>
<rect x="827" y="128" width="4" height="1" fill="#000"/>
<rect x="825" y="148" width="6" height="1" fill="#000"/>
<rect x="827" y="167" width="4" height="1" fill="#000"/>
<rect x="825" y="187" width="6" height="1" fill="#000"/>
<rect x="827" y="206" width="4" height="1" fill="#000"/>
<rect x="825" y="226" width="6" height="1" fill="#000"/>
<rect x="827" y="245" width="4" height="1" fill="#000"/>
<rect x="825" y="265" width="6" height="1" fill="#000"/>
<rect x="827" y="284" width="4" height="1" fill="#000"/>
<rect x="825" y="304" width="6" height="1" fill="#000"/>
<rect x="827" y="323" width="4" height="1" fill="#000"/>
<rect x="825" y="343" width="6" height="1" fill="#000"/>
<rect x="62" y="338" width="1" height="6" fill="#000"/>
<rect x="92" y="338" width="1" height="6" fill="#000"/>
<rect x="123" y="338" width="1" height="6" fill="#000"/>
<rect x="153" y="338" width="1" height="6" fill="#000"/>
<rect x="184" y="338" width="1" height="6" fill="#000"/>
<rect x="214" y="338" width="1" height="6" fill="#000"/>
<rect x="245" y="338" width="1" height="6" fill="#000"/>
<rect x="275" y="338" width="1" height="6" fill="#000"/>
<rect x="306" y="338" width="1" height="6" fill="#000"/>
<rect x="337" y="338" width="1" height="6" fill="#000"/>
<rect x="367" y="338" width="1" height="6" fill="#000"/>
<rect x="398" y="338" width="1" height="6" fill="#000"/>
<rect x="428" y="338" width="1" height="6" fill="#000"/>
<rect x="459" y="338" width="1" height="6" fill="#000"/>
<rect x="489" y="338" width="1" height="6" fill="#000"/>
<rect x="520" y="338" width="1" height="6" fill="#000"/>
<rect x="550" y="338" width="1" height="6" fill="#000"/>
<rect x="581" y="338" width="1" height="6" fill="#000"/>
<rect x="612" y="338" width="1" height="6" fill="#000"/>
<rect x="642" y="338" width="1" height="6" fill="#000"/>
<rect x="673" y="338" width="1" height="6" fill="#000"/>
<rect x="703" y="338" width="1" height="6" fill="#000"/>
<rect x="734" y="338" width="1" height="6" fill="#000"/>
<rect x="764" y="338" width="1" height="6" fill="#000"/>
<rect x="795" y="338" width="1" height="6" fill="#000"/>
</g>
<g shape-rendering="crispEdges">
<rect x="61" y="382" width="770" height="1" fill="#c8c8c8"/>
<rect x="61" y="426" width="770" height="1" fill="#c8c8c8"/>
<rect x="91" y="360" width="1" height="110" fill="#c8c8c8"/>
<rect x="121" y="360" width="1" height="110" fill="#c8c8c8"/>
<rect x="152" y="360" width="1" height="110" fill="#c8c8c8"/>
<rect x="182" y="360" width="1" height="110" fill="#c8c8c8"/>
<rect x="213" y="360" width="1" height="110" fill="#c8c8c8"/>
<rect x="243" y="360" width="1" height="110" fill="#c8c8c8"/>
<rect x="274" y="360" width="1" height="110" fill="#c8c8c8"/>
<rect x="304" y="360" width="1" height="110" fill="#c8c8c8"/>
<rect x="335" y="360" width="1" height="110" fill="#c8c8c8"/>
<rect x="366" y="360" width="1" height="110" fill="#c8c8c8"/>
<rect x="396" y="360" width="1" height="110" fill="#c8c8c8"/>
<rect x="427" y="360" width="1" height="110" fill="#c8c8c8"/>
<rect x="457" y="360" width="1" height="110" fill="#c8c8c8"/>
<rect x="488" y="360" width="1" height="110" fill="#c8c8c8"/>
<rect x="518" y="360" width="1" height="110" fill="#c8c8c8"/>
<rect x="549" y="360" width="1" height="110" fill="#c8c8c8"/>
<rect x="579" y="360" width="1" height="110" fill="#c8c8c8"/>
<rect x="610" y="360" width="1" height="110" fill="#c8c8c8"/>
<rect x="641" y="360" width="1" height="110" fill="#c8c8c8"/>
<rect x="671" y="360" width="1" height="110" fill="#c8c8c8"/>
<rect x="702" y="360" width="1" height="110" fill="#c8c8c8"/>
<rect x="732" y="360" width="1" height="110" fill="#c8c8c8"/>
<rect x="763" y="360" width="1" height="110" fill="#c8c8c8"/>
<rect x="793" y="360" width="1" height="110" fill="#c8c8c8"/>
<rect x="824" y="360" width="1" height="110" fill="#c8c8c8"/>
<rect x="61" y="429" width="2" height="41" fill="#ffa000"/>
<rect x="64" y="411" width="2" height="59" fill="#ffa000"/>
<rect x="67" y="412" width="2" height="58" fill="#ffa000"/>
<rect x="70" y="396" width="2" height="74" fill="#ffa000"/>
<rect x="73" y="421" width="2" height="49" fill="#ffa000"/>
<rect x="76" y="418" width="2" height="52" fill="#ffa000"/>
<rect x="79" y="417" width="2" height="53" fill="#ffa000"/>
<rect x="82" y="433" width="2" height="37" fill="#ffa000"/>
<rect x="85" y="437" width="2" height="33" fill="#ffa000"/>
<rect x="89" y="445" width="2" height="25" fill="#ffa000"/>
<rect x="92" y="443" width="2" height="27" fill="#ffa000"/>
<rect x="95" y="438" width="2" height="32" fill="#ffa000"/>
<rect x="98" y="425" width="2" height="45" fill="#ffa000"/>
<rect x="101" y="426" width="2" height="44" fill="#ffa000"/>
<rect x="104" y="434" width="2" height="36" fill="#ffa000"/>
<rect x="107" y="435" width="2" height="35" fill="#ffa000"/>
<rect x="110" y="441" width="2" height="29" fill="#ffa000"/>
<rect x="113" y="428" width="2" height="42" fill="#ffa000"/>
<rect x="116" y="440" width="2" height="30" fill="#ffa000"/>
<rect x="119" y="433" width="2" height="37" fill="#ffa000"/>
<rect x="122" y="441" width="2" height="29" fill="#ffa000"/>
<rect x="125" y="445" width="2" height="25" fill="#ffa000"/>
<rect x="128" y="442" width="2" height="28" fill="#ffa000"/>
<rect x="131" y="443" width="2" height="27" fill="#ffa000"/>
<rect x="134" y="438" width="2" height="32" fill="#ffa000"/>
<rect x="137" y="435" width="2" height="35" fill="#ffa000"/>
<rect x="140" y="443" width="2" height="27" fill="#ffa000"/>
<rect x="144" y="433" width="2" height="37" fill="#ffa000"/>
<rect x="147" y="433" width="2" height="37" fill="#ffa000"/>
<rect x="150" y="426" width="2" height="44" fill="#ffa000"/>
<rect x="153" y="445" width="2" height="25" fill="#ffa000"/>
<rect x="156" y="441" width="2" height="29" fill="#ffa000"/>
<rect x="159" y="435" width="2" height="35" fill="#ffa000"/>
<rect x="162" y="447" width="2" height="23" fill="#ffa000"/>
<rect x="165" y="439" width="2" height="31" fill="#ffa000"/>
<rect x="168" y="441" width="2" height="29" fill="#ffa000"/>
<rect x="171" y="441" width="2" height="29" fill="#ffa000"/>
<rect x="174" y="445" width="2" height="25" fill="#ffa000"/>
<rect x="177" y="443" width="2" height="27" fill="#ffa000"/>
<rect x="180" y="450" width="2" height="20" fill="#ffa000"/>
<rect x="183" y="395" width="2" height="75" fill="#ffa000"/>
<rect x="186" y="452" width="2" height="18" fill="#ffa000"/>
<rect x="189" y="445" width="2" height="25" fill="#ffa000"/>
<rect x="192" y="442" width="2" height="28" fill="#ffa000"/>
<rect x="195" y="447" width="2" height="23" fill="#ffa000"/>
<rect x="199" y="445" width="2" height="25" fill="#ffa000"/>
<rect x="202" y="415" width="2" height="55" fill="#ffa000"/>
<rect x="205" y="447" width="2" height="23" fill="#ffa000"/>
<rect x="208" y="443" width="2" height="27" fill="#ffa000"/>
<rect x="211" y="446" width="2" height="24" fill="#ffa000"/>
<rect x="214" y="436" width="2" height="34" fill="#ffa000"/>
<rect x="217" y="439" width="2" height="31" fill="#ffa000"/>
<rect x="220" y="452" width="2" height="18" fill="#ffa000"/>
<rect x="223" y="441" width="2" height="29" fill="#ffa000"/>
<rect x="226" y="386" width="2" height="84" fill="#ffa000"/>
<rect x="229" y="427" width="2" height="43" fill="#ffa000"/>
<rect x="232" y="452" width="2" height="18" fill="#ffa000"/>
<rect x="235" y="449" width="2" height="21" fill="#ffa000"/>
<rect x="238" y="431" width="2" height="39" fill="#ffa000"/>
<rect x="241" y="418" width="2" height="52" fill="#ffa000"/>
<rect x="244" y="450" width="2" height="20" fill="#ffa000"/>
<rect x="247" y="437" width="2" height="33" fill="#ffa000"/>
<rect x="250" y="446" width="2" height="24" fill="#ffa000"/>
<rect x="254" y="453" width="2" height="17" fill="#ffa000"/>
<rect x="257" y="451" width="2" height="19" fill="#ffa000"/>
<rect x="260" y="432" width="2" height="38" fill="#ffa000"/>
<rect x="263" y="426" width="2" height="44" fill="#ffa000"/>
<rect x="266" y="447" width="2" height="23" fill="#ffa000"/>
<rect x="269" y="445" width="2" height="25" fill="#ffa000"/>
<rect x="272" y="449" width="2" height="21" fill="#ffa000"/>
<rect x="275" y="445" width="2" height="25" fill="#ffa000"/>
<rect x="278" y="438" width="2" height="32" fill="#ffa000"/>
<rect x="281" y="454" width="2" height="16" fill="#ffa000"/>
<rect x="284" y="438" width="2" height="32" fill="#ffa000"/>
<rect x="287" y="443" width="2" height="27" fill="#ffa000"/>
<rect x="290" y="440" width="2" height="30" fill="#ffa000"/>
<rect x="293" y="442" width="2" height="28" fill="#ffa000"/>
<rect x="296" y="444" width="2" height="26" fill="#ffa000"/>
<rect x="299" y="451" width="2" height="19" fill="#ffa000"/>
<rect x="302" y="444" width="2" height="26" fill="#ffa000"/>
<rect x="305" y="432" width="2" height="38" fill="#ffa000"/>
<rect x="309" y="438" width="2" height="32" fill="#ffa000"/>
<rect x="312" y="438" width="2" height="32" fill="#ffa000"/>
<rect x="315" y="447" width="2" height="23" fill="#ffa000"/>
<rect x="318" y="432" width="2" height="38" fill="#ffa000"/>
<rect x="321" y="425" width="2" height="45" fill="#ffa000"/>
<rect x="324" y="428" width="2" height="42" fill="#ffa000"/>
<rect x="327" y="418" width="2" height="52" fill="#ffa000"/>
<rect x="330" y="438" width="2" height="32" fill="#ffa000"/>
<rect x="333" y="436" width="2" height="34" fill="#ffa000"/>
<rect x="336" y="447" width="2" height="23" fill="#ffa000"/>
<rect x="339" y="447" width="2" height="23" fill="#ffa000"/>
<rect x="342" y="446" width="2" height="24" fill="#ffa000"/>
<rect x="345" y="434" width="2" height="36" fill="#ffa000"/>
<rect x="348" y="451" width="2" height="19" fill="#ffa000"/>
<rect x="351" y="446" width="2" height="24" fill="#ffa000"/>
<rect x="354" y="445" width="2" height="25" fill="#ffa000"/>
<rect x="357" y="440" width="2" height="30" fill="#ffa000"/>
<rect x="360" y="448" width="2" height="22" fill="#ffa000"/>
<rect x="364" y="450" width="2" height="20" fill="#ffa000"/>
<rect x="367" y="435" width="2" height="35" fill="#ffa000"/>
<rect x="370" y="451" width="2" height="19" fill="#ffa000"/>
<rect x="373" y="448" width="2" height="22" fill="#ffa000"/>
<rect x="376" y="439" width="2" height="31" fill="#ffa000"/>
<rect x="379" y="434" width="2" height="36" fill="#ffa000"/>
<rect x="382" y="442" width="2" height="28" fill="#ffa000"/>
<rect x="385" y="438" width="2" height="32" fill="#ffa000"/>
<rect x="388" y="432" width="2" height="38" fill="#ffa000"/>
<rect x="391" y="428" width="2" height="42" fill="#ffa000"/>
<rect x="394" y="435" width="2" height="35" fill="#ffa000"/>
<rect x="397" y="437" width="2" height="33" fill="#ffa000"/>
<rect x="400" y="428" width="2" height="42" fill="#ffa000"/>
<rect x="403" y="442" width="2" height="28" fill="#ffa000"/>
<rect x="406" y="422" width="2" height="48" fill="#ffa000"/>
<rect x="409" y="432" width="2" height="38" fill="#ffa000"/>
<rect x="412" y="414" width="2" height="56" fill="#ffa000"/>
<rect x="415" y="419" width="2" height="51" fill="#ffa000"/>
<rect x="419" y="391" width="2" height="79" fill="#ffa000"/>
<rect x="422" y="417" width="2" height="53" fill="#ffa000"/>
<rect x="425" y="431" width="2" height="39" fill="#ffa000"/>
<rect x="428" y="441" width="2" height="29" fill="#ffa000"/>
<rect x="431" y="436" width="2" height="34" fill="#ffa000"/>
<rect x="434" y="439" width="2" height="31" fill="#ffa000"/>
<rect x="437" y="445" width="2" height="25" fill="#ffa000"/>
<rect x="440" y="449" width="2" height="21" fill="#ffa000"/>
<rect x="443" y="454" width="2" height="16" fill="#ffa000"/>
<rect x="446" y="439" width="2" height="31" fill="#ffa000"/>
<rect x="449" y="434" width="2" height="36" fill="#ffa000"/>
<rect x="452" y="445" width="2" height="25" fill="#ffa000"/>
<rect x="455" y="437" width="2" height="33" fill="#ffa000"/>
<rect x="458" y="428" width="2" height="42" fill="#ffa000"/>
<rect x="461" y="434" width="2" height="36" fill="#ffa000"/>
<rect x="464" y="436" width="2" height="34" fill="#ffa000"/>
<rect x="467" y="443" width="2" height="27" fill="#ffa000"/>
<rect x="470" y="443" width="2" height="27" fill="#ffa000"/>
<rect x="474" y="443" width="2" height="27" fill="#ffa000"/>
<rect x="477" y="447" width="2" height="23" fill="#ffa000"/>
<rect x="480" y="444" width="2" height="26" fill="#ffa000"/>
<rect x="483" y="448" width="2" height="22" fill="#ffa000"/>
<rect x="486" y="446" width="2" height="24" fill="#ffa000"/>
<rect x="489" y="441" width="2" height="29" fill="#ffa000"/>
<rect x="492" y="453" width="2" height="17" fill="#ffa000"/>
<rect x="495" y="454" width="2" height="16" fill="#ffa000"/>
<rect x="498" y="449" width="2" height="21" fill="#ffa000"/>
<rect x="501" y="454" width="2" height="16" fill="#ffa000"/>
<rect x="504" y="451" width="2" height="19" fill="#ffa000"/>
<rect x="507" y="452" width="2" height="18" fill="#ffa000"/>
<rect x="510" y="452" width="2" height="18" fill="#ffa000"/>
<rect x="513" y="452" width="2" height="18" fill="#ffa000"/>
<rect x="516" y="454" width="2" height="16" fill="#ffa000"/>
<rect x="519" y="419" width="2" height="51" fill="#ffa000"/>
<rect x="522" y="453" width="2" height="17" fill="#ffa000"/>
<rect x="525" y="447" width="2" height="23" fill="#ffa000"/>
<rect x="529" y="446" width="2" height="24" fill="#ffa000"/>
<rect x="532" y="451" width="2" height="19" fill="#ffa000"/>
<rect x="535" y="444" width="2" height="26" fill="#ffa000"/>
<rect x="538" y="434" width="2" height="36" fill="#ffa000"/>
<rect x="541" y="431" width="2" height="39" fill="#ffa000"/>
<rect x="544" y="439" width="2" height="31" fill="#ffa000"/>
<rect x="547" y="444" width="2" height="26" fill="#ffa000"/>
<rect x="550" y="449" width="2" height="21" fill="#ffa000"/>
<rect x="553" y="454" width="2" height="16" fill="#ffa000"/>
<rect x="556" y="441" width="2" height="29" fill="#ffa000"/>
<rect x="559" y="360" width="2" height="110" fill="#ffa000"/>
<rect x="562" y="440" width="2" height="30" fill="#ffa000"/>
<rect x="565" y="453" width="2" height="17" fill="#ffa000"/>
<rect x="568" y="459" width="2" height="11" fill="#ffa000"/>
<rect x="571" y="430" width="2" height="40" fill="#ffa000"/>
<rect x="574" y="450" width="2" height="20" fill="#ffa000"/>
<rect x="577" y="455" width="2" height="15" fill="#ffa000"/>
<rect x="580" y="442" width="2" height="28" fill="#ffa000"/>
<rect x="584" y="453" width="2" height="17" fill="#ffa000"/>
<rect x="587" y="434" width="2" height="36" fill="#ffa000"/>
<rect x="590" y="447" width="2" height="23" fill="#ffa000"/>
<rect x="593" y="436" width="2" height="34" fill="#ffa000"/>
<rect x="596" y="453" width="2" height="17" fill="#ffa000"/>
<rect x="599" y="455" width="2" height="15" fill="#ffa000"/>
<rect x="602" y="447" width="2" height="23" fill="#ffa000"/>
<rect x="605" y="449" width="2" height="21" fill="#ffa000"/>
<rect x="608" y="434" width="2" height="36" fill="#ffa000"/>
<rect x="611" y="436" width="2" height="34" fill="#ffa000"/>
<rect x="614" y="417" width="2" height="53" fill="#ffa000"/>
<rect x="617" y="455" width="2" height="15" fill="#ffa000"/>
<rect x="620" y="442" width="2" height="28" fill="#ffa000"/>
<rect x="623" y="460" width="2" height="10" fill="#ffa000"/>
<rect x="626" y="463" width="2" height="7" fill="#ffa000"/>
<rect x="629" y="458" width="2" height="12" fill="#ffa000"/>
<rect x="632" y="456" width="2" height="14" fill="#ffa000"/>
<rect x="635" y="452" width="2" height="18" fill="#ffa000"/>
<rect x="639" y="457" width="2" height="13" fill="#ffa000"/>
<rect x="642" y="451" width="2" height="19" fill="#ffa000"/>
<rect x="645" y="444" width="2" height="26" fill="#ffa000"/>
<rect x="648" y="448" width="2" height="22" fill="#ffa000"/>
<rect x="651" y="440" width="2" height="30" fill="#ffa000"/>
<rect x="654" y="451" width="2" height="19" fill="#ffa000"/>
<rect x="657" y="451" width="2" height="19" fill="#ffa000"/>
<rect x="660" y="455" width="2" height="15" fill="#ffa000"/>
<rect x="663" y="442" width="2" height="28" fill="#ffa000"/>
<rect x="666" y="457" width="2" height="13" fill="#ffa000"/>
<rect x="669" y="457" width="2" height="13" fill="#ffa000"/>
<rect x="672" y="422" width="2" height="48" fill="#ffa000"/>
<rect x="675" y="385" width="2" height="85" fill="#ffa000"/>
<rect x="678" y="431" width="2" height="39" fill="#ffa000"/>
<rect x="681" y="439" width="2" height="31" fill="#ffa000"/>
<rect x="684" y="435" width="2" height="35" fill="#ffa000"/>
<rect x="687" y="443" width="2" height="27" fill="#ffa000"/>
<rect x="690" y="421" width="2" height="49" fill="#ffa000"/>
<rect x="694" y="431" width="2" height="39" fill="#ffa000"/>
<rect x="697" y="434" width="2" height="36" fill="#ffa000"/>
<rect x="700" y="437" width="2" height="33" fill="#ffa000"/>
<rect x="703" y="435" width="2" height="35" fill="#ffa000"/>
<rect x="706" y="442" width="2" height="28" fill="#ffa000"/>
<rect x="709" y="443" width="2" height="27" fill="#ffa000"/>
<rect x="712" y="435" width="2" height="35" fill="#ffa000"/>
<rect x="715" y="445" width="2" height="25" fill="#ffa000"/>
<rect x="718" y="434" width="2" height="36" fill="#ffa000"/>
<rect x="721" y="445" width="2" height="25" fill="#ffa000"/>
<rect x="724" y="441" width="2" height="29" fill="#ffa000"/>
<rect x="727" y="428" width="2" height="42" fill="#ffa000"/>
<rect x="730" y="441" width="2" height="29" fill="#ffa000"/>
<rect x="733" y="440" width="2" height="30" fill="#ffa000"/>
<rect x="736" y="454" width="2" height="16" fill="#ffa000"/>
<rect x="739" y="441" width="2" height="29" fill="#ffa000"/>
<rect x="742" y="453" width="2" height="17" fill="#ffa000"/>
<rect x="745" y="452" width="2" height="18" fill="#ffa000"/>
<rect x="749" y="440" width="2" height="30" fill="#ffa000"/>
<rect x="752" y="433" width="2" height="37" fill="#ffa000"/>
<rect x="755" y="428" width="2" height="42" fill="#ffa000"/>
<rect x="758" y="453" width="2" height="17" fill="#ffa000"/>
<rect x="761" y="451" width="2" height="19" fill="#ffa000"/>
<rect x="764" y="448" width="2" height="22" fill="#ffa000"/>
<rect x="767" y="450" width="2" height="20" fill="#ffa000"/>
<rect x="770" y="438" width="2" height="32" fill="#ffa000"/>
<rect x="773" y="434" width="2" height="36" fill="#ffa000"/>
<rect x="776" y="454" width="2" height="16" fill="#ffa000"/>
<rect x="779" y="451" width="2" height="19" fill="#ffa000"/>
<rect x="782" y="450" width="2" height="20" fill="#ffa000"/>
<rect x="785" y="451" width="2" height="19" fill="#ffa000"/>
<rect x="788" y="449" width="2" height="21" fill="#ffa000"/>
<rect x="791" y="445" width="2" height="25" fill="#ffa000"/>
<rect x="794" y="444" width="2" height="26" fill="#ffa000"/>
<rect x="797" y="435" width="2" height="35" fill="#ffa000"/>
<rect x="800" y="444" width="2" height="26" fill="#ffa000"/>
<rect x="804" y="454" width="2" height="16" fill="#ffa000"/>
<rect x="807" y="446" width="2" height="24" fill="#ffa000"/>
<rect x="810" y="443" width="2" height="27" fill="#ffa000"/>
<rect x="813" y="445" width="2" height="25" fill="#ffa000"/>
<rect x="816" y="450" width="2" height="20" fill="#ffa000"/>
<rect x="819" y="450" width="2" height="20" fill="#ffa000"/>
<rect x="822" y="441" width="2" height="29" fill="#ffa000"/>
<rect x="825" y="453" width="2" height="17" fill="#ffa000"/>
<rect x="828" y="440" width="2" height="30" fill="#ffa000"/>
<rect x="60" y="360" width="1" height="111" fill="#000"/>
<rect x="60" y="470" width="771" height="1" fill="#000"/>
<rect x="60" y="470" width="6" height="1" fill="#000"/>
<rect x="60" y="461" width="4" height="1" fill="#000"/>
<rect x="60" y="452" width="4" height="1" fill="#000"/>
<rect x="60" y="444" width="4" height="1" fill="#000"/>
<rect x="60" y="435" width="4" height="1" fill="#000"/>
<rect x="60" y="426" width="6" height="1" fill="#000"/>
<rect x="60" y="417" width="4" height="1" fill="#000"/>
<rect x="60" y="409" width="4" height="1" fill="#000"/>
<rect x="60" y="400" width="4" height="1" fill="#000"/>
<rect x="60" y="391" width="4" height="1" fill="#000"/>
<rect x="60" y="382" width="6" height="1" fill="#000"/>
<rect x="60" y="374" width="4" height="1" fill="#000"/>
<rect x="60" y="365" width="4" height="1" fill="#000"/>
<rect x="60" y="465" width="1" height="6" fill="#000"/>
<rect x="91" y="465" width="1" height="6" fill="#000"/>
<rect x="121" y="465" width="1" height="6" fill="#000"/>
<rect x="152" y="465" width="1" height="6" fill="#000"/>
<rect x="182" y="465" width="1" height="6" fill="#000"/>
<rect x="213" y="465" width="1" height="6" fill="#000"/>
<rect x="243" y="465" width="1" height="6" fill="#000"/>
<rect x="274" y="465" width="1" height="6" fill="#000"/>
<rect x="304" y="465" width="1" height="6" fill="#000"/>
<rect x="335" y="465" width="1" height="6" fill="#000"/>
<rect x="366" y="465" width="1" height="6" fill="#000"/>
<rect x="396" y="465" width="1" height="6" fill="#000"/>
<rect x="427" y="465" width="1" height="6" fill="#000"/>
<rect x="457" y="465" width="1" height="6" fill="#000"/>
<rect x="488" y="465" width="1" height="6" fill="#000"/>
<rect x="518" y="465" width="1" height="6" fill="#000"/>
<rect x="549" y="465" width="1" height="6" fill="#000"/>
<rect x="579" y="465" width="1" height="6" fill="#000"/>
<rect x="610" y="465" width="1" height="6" fill="#000"/>
<rect x="641" y="465" width="1" height="6" fill="#000"/>
<rect x="671" y="465" width="1" height="6" fill="#000"/>
<rect x="702" y="465" width="1" height="6" fill="#000"/>
<rect x="732" y="465" width="1" height="6" fill="#000"/>
<rect x="763" y="465" width="1" height="6" fill="#000"/>
<rect x="793" y="465" width="1" height="6" fill="#000"/>
<rect x="824" y="465" width="1" height="6" fill="#000"/>
</g>
<g font-family="&quot;Liberation Sans&quot;, sans-serif" font-size="11" fill="#000" text-anchor="end">
<text x="51" y="73.9">100</text>
<text x="51" y="108">95</text>
<text x="51" y="142.2">90</text>
<text x="51" y="176.3">85</text>
<text x="51" y="210.4">80</text>
<text x="51" y="244.5">75</text>
<text x="51" y="278.7">70</text>
<text x="51" y="312.8">65</text>
<text x="51" y="346.9">60</text>
</g>
<g font-family="&quot;Liberation Sans&quot;, sans-serif" font-size="11" fill="#000" text-anchor="start">
<text x="838" y="73.9">16000</text>
<text x="838" y="112.9">15000</text>
<text x="838" y="151.9">14000</text>
<text x="838" y="190.9">13000</text>
<text x="838" y="229.9">12000</text>
<text x="838" y="268.9">11000</text>
<text x="838" y="307.9">10000</text>
<text x="838" y="346.9">9000</text>
</g>
<g font-family="&quot;Liberation Sans&quot;, sans-serif" font-size="11" fill="#000" text-anchor="end">
<text x="51" y="385.9">10M</text>
<text x="51" y="429.9">5M</text>
<text x="51" y="473.9">0M</text>
</g>
<text y="51" font-family="&quot;Liberation Sans&quot;, &quot;Noto Sans CJK JP&quot;, sans-serif" font-size="12" fill="#000"><tspan x="30">単位:</tspan><tspan x="60">ドル</tspan></text>
<text y="51" font-family="&quot;Liberation Sans&quot;, &quot;Noto Sans CJK JP&quot;, sans-serif" font-size="12" fill="#000"><tspan x="810">単位:</tspan><tspan x="840">円</tspan></text>
<g font-family="&quot;Liberation Sans&quot;, sans-serif" font-size="12" fill="#000" text-anchor="end">
<text transform="translate(67.8,475) rotate(-90)">2025-4-2</text>
<text transform="translate(96.8,475) rotate(-90)">2025-4-16</text>
<text transform="translate(126.8,475) rotate(-90)">2025-5-1</text>
<text transform="translate(157.8,475) rotate(-90)">2025-5-15</text>
<text transform="translate(187.8,475) rotate(-90)">2025-5-30</text>
<text transform="translate(218.8,475) rotate(-90)">2025-6-13</text>
<text transform="translate(248.8,475) rotate(-90)">2025-6-30</text>
<text transform="translate(279.8,475) rotate(-90)">2025-7-15</text>
<text transform="translate(309.8,475) rotate(-90)">2025-7-29</text>
<text transform="translate(340.8,475) rotate(-90)">2025-8-12</text>
<text transform="translate(371.8,475) rotate(-90)">2025-8-26</text>
<text transform="translate(401.8,475) rotate(-90)">2025-9-10</text>
<text transform="translate(432.8,475) rotate(-90)">2025-9-24</text>
<text transform="translate(462.8,475) rotate(-90)">2025-10-8</text>
<text transform="translate(493.8,475) rotate(-90)">2025-10-22</text>
<text transform="translate(523.8,475) rotate(-90)">2025-11-5</text>
<text transform="translate(554.8,475) rotate(-90)">2025-11-19</text>
<text transform="translate(584.8,475) rotate(-90)">2025-12-4</text>
<text transform="translate(615.8,475) rotate(-90)">2025-12-18</text>
<text transform="translate(646.8,475) rotate(-90)">2026-1-5</text>
<text transform="translate(676.8,475) rotate(-90)">2026-1-20</text>
<text transform="translate(707.8,475) rotate(-90)">2026-2-3</text>
<text transform="translate(737.8,475) rotate(-90)">2026-2-18</text>
<text transform="translate(768.8,475) rotate(-90)">2026-3-4</text>
<text transform="translate(798.8,475) rotate(-90)">2026-3-18</text>
<text transform="translate(829.8,475) rotate(-90)">2026-4-1</text>
</g>
<g shape-rendering="crispEdges">
<rect x="258.5" y="22.5" width="385" height="43" fill="#f4f4f4" stroke="#6e6e6e" stroke-width="1"/>
<rect x="266" y="29" width="11" height="11" fill="#666"/><rect x="267" y="30" width="9" height="9" fill="#000"/>
<rect x="263" y="54" width="17" height="2" fill="#f00"/>
</g>
<text y="38.8" font-family="&quot;Liberation Sans&quot;, &quot;Noto Sans CJK JP&quot;, sans-serif" font-size="13" fill="#000"><tspan x="289.5">センプラ・エナジー</tspan><tspan x="414.9">(Sempra Energy)</tspan><tspan x="518">のドルベースの株価</tspan></text>
<text y="58.8" font-family="&quot;Liberation Sans&quot;, &quot;Noto Sans CJK JP&quot;, sans-serif" font-size="13" fill="#000"><tspan x="289.5">センプラ・エナジー</tspan><tspan x="414.9">(Sempra Energy)</tspan><tspan x="518">の円ベースの株価</tspan></text>
</svg></body></html>
